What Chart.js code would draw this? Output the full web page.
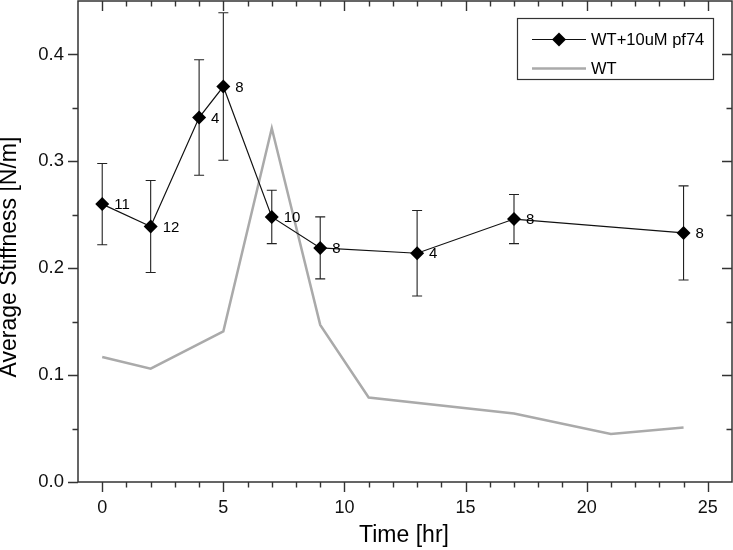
<!DOCTYPE html>
<html>
<head>
<meta charset="utf-8">
<script src="https://cdn.jsdelivr.net/npm/chart.js@4.4.1/dist/chart.umd.min.js"></script>
<style>
  html, body { margin: 0; padding: 0; background: #fff; }
  #wrap { width: 733px; height: 550px; }
</style>
</head>
<body>
<div id="wrap"><canvas id="c" width="733" height="550"></canvas></div>
<script>
// ---- data ----
const timesPf74 = [0, 2, 4, 5, 7, 9, 13, 17, 24];
const stiffPf74 = [0.260, 0.239, 0.341, 0.370, 0.248, 0.219, 0.214, 0.246, 0.233];
const errPf74   = [0.038, 0.043, 0.054, 0.069, 0.025, 0.029, 0.040, 0.023, 0.044];
const nLabels   = ['11', '12', '4', '8', '10', '8', '4', '8', '8'];
const timesWT   = [0, 2, 5, 7, 9, 11, 17, 21, 24];
const stiffWT   = [0.117, 0.106, 0.141, 0.331, 0.147, 0.079, 0.064, 0.045, 0.051];
const seriesNames = ['WT+10uM pf74', 'WT'];
const xTitle = 'Time [hr]';
const yTitle = 'Average Stiffness [N/m]';

const FONT = '"Liberation Sans", Arial, sans-serif';
const FRAME = '#333333';
const GRAY = '#aaaaaa';

const pf74Points = timesPf74.map((t, i) => ({ x: t, y: stiffPf74[i] }));
const wtPoints = timesWT.map((t, i) => ({ x: t, y: stiffWT[i] }));

function isMultiple(v, step) {
  const r = v / step;
  return Math.abs(r - Math.round(r)) < 1e-6;
}

function noPad(s) {
  s.paddingTop = 0; s.paddingBottom = 0; s.paddingLeft = 0; s.paddingRight = 0;
}

const errorBarPlugin = {
  id: 'errorBars',
  beforeDatasetsDraw(chart) {
    const ctx = chart.ctx, xs = chart.scales.x, ys = chart.scales.y;
    ctx.save();
    ctx.strokeStyle = '#222';
    ctx.lineWidth = 1.1;
    timesPf74.forEach((t, i) => {
      const px = xs.getPixelForValue(t);
      const top = ys.getPixelForValue(stiffPf74[i] + errPf74[i]);
      const bot = ys.getPixelForValue(stiffPf74[i] - errPf74[i]);
      ctx.beginPath();
      ctx.moveTo(px, top); ctx.lineTo(px, bot);
      ctx.moveTo(px - 5, top); ctx.lineTo(px + 5, top);
      ctx.moveTo(px - 5, bot); ctx.lineTo(px + 5, bot);
      ctx.stroke();
    });
    ctx.restore();
  }
};

const decorPlugin = {
  id: 'decor',
  afterDraw(chart) {
    const ctx = chart.ctx, xs = chart.scales.x, ys = chart.scales.y;
    const a = chart.chartArea;
    ctx.save();
    // data labels
    ctx.fillStyle = '#000';
    ctx.font = '15px ' + FONT;
    ctx.textAlign = 'left';
    ctx.textBaseline = 'middle';
    timesPf74.forEach((t, i) => {
      ctx.fillText(nLabels[i], xs.getPixelForValue(t) + 12, ys.getPixelForValue(stiffPf74[i]) + 1);
    });
    // frame
    ctx.strokeStyle = FRAME;
    ctx.lineWidth = 1.5;
    ctx.strokeRect(a.left, a.top, a.right - a.left, a.bottom - a.top);
    // ticks
    ctx.lineWidth = 1.4;
    ctx.beginPath();
    xs.ticks.forEach(tk => {
      const v = tk.value;
      if (v <= xs.min || v >= xs.max) return;
      const px = Math.round(xs.getPixelForValue(v)) + 0.5;
      const len = isMultiple(v, 5) ? 10 : 5.5;
      ctx.moveTo(px, a.bottom); ctx.lineTo(px, a.bottom + len);
      ctx.moveTo(px, a.top); ctx.lineTo(px, a.top + len);
    });
    ys.ticks.forEach(tk => {
      const v = tk.value;
      if (v >= ys.max - 1e-9) return;
      const py = Math.round(ys.getPixelForValue(v)) + 0.5;
      const len = isMultiple(v, 0.1) ? 10 : 5.5;
      ctx.moveTo(a.left - len, py); ctx.lineTo(a.left, py);
      if (v > ys.min + 1e-9) { ctx.moveTo(a.right - len, py); ctx.lineTo(a.right, py); }
    });
    ctx.stroke();
    // axis titles
    ctx.fillStyle = '#000';
    ctx.font = '23px ' + FONT;
    ctx.textAlign = 'center';
    ctx.textBaseline = 'middle';
    ctx.fillText(xTitle, (a.left + a.right) / 2 - 1, 536);
    ctx.save();
    ctx.translate(10, 257);
    ctx.rotate(-Math.PI / 2);
    ctx.fillText(yTitle, 0, 0);
    ctx.restore();
    // legend
    ctx.strokeStyle = FRAME;
    ctx.lineWidth = 1.2;
    ctx.strokeRect(517.5, 18.5, 196, 61);
    ctx.strokeStyle = '#111';
    ctx.lineWidth = 1.2;
    ctx.beginPath(); ctx.moveTo(532, 39.5); ctx.lineTo(586, 39.5); ctx.stroke();
    ctx.fillStyle = '#000';
    ctx.beginPath();
    ctx.moveTo(559, 32.5); ctx.lineTo(566, 39.5); ctx.lineTo(559, 46.5); ctx.lineTo(552, 39.5);
    ctx.closePath(); ctx.fill();
    ctx.strokeStyle = GRAY;
    ctx.lineWidth = 2.5;
    ctx.beginPath(); ctx.moveTo(532, 68.5); ctx.lineTo(586, 68.5); ctx.stroke();
    ctx.fillStyle = '#000';
    ctx.font = '16.5px ' + FONT;
    ctx.textAlign = 'left';
    ctx.textBaseline = 'middle';
    ctx.fillText(seriesNames[0], 591, 40);
    ctx.fillText(seriesNames[1], 591, 69);
    ctx.restore();
  }
};

new Chart(document.getElementById('c'), {
  type: 'line',
  data: {
    datasets: [
      {
        label: seriesNames[0],
        data: pf74Points,
        borderColor: '#111',
        borderWidth: 1.2,
        pointStyle: 'rectRot',
        pointRadius: 7,
        pointBackgroundColor: '#000',
        pointBorderColor: '#000',
        pointBorderWidth: 0,
        tension: 0,
        fill: false
      },
      {
        label: seriesNames[1],
        data: wtPoints,
        borderColor: GRAY,
        borderWidth: 2.5,
        pointRadius: 0,
        tension: 0,
        fill: false
      }
    ]
  },
  options: {
    responsive: false,
    animation: false,
    devicePixelRatio: 1,
    layout: { autoPadding: false, padding: { top: 1, right: 1, left: 0, bottom: 0 } },
    plugins: { legend: { display: false }, tooltip: { enabled: false } },
    scales: {
      x: {
        type: 'linear',
        min: -1, max: 26,
        afterFit(s) { s.height = 68; noPad(s); },
        border: { display: false },
        grid: { drawOnChartArea: false, drawTicks: true, tickLength: 10, color: 'rgba(0,0,0,0)' },
        ticks: {
          stepSize: 1, autoSkip: false, maxRotation: 0, padding: 5,
          color: '#111', font: { family: FONT, size: 18 },
          callback: v => isMultiple(v, 5) ? String(Math.round(v)) : ''
        },
        title: { display: false }
      },
      y: {
        type: 'linear',
        min: 0, max: 0.45,
        afterFit(s) { s.width = 78; noPad(s); },
        border: { display: false },
        grid: { drawOnChartArea: false, drawTicks: true, tickLength: 11, color: 'rgba(0,0,0,0)' },
        ticks: {
          stepSize: 0.05, autoSkip: false, padding: 3,
          color: '#111', font: { family: FONT, size: 18.5 },
          callback: v => isMultiple(v, 0.1) ? v.toFixed(1) : ''
        },
        title: { display: false }
      }
    }
  },
  plugins: [errorBarPlugin, decorPlugin]
});
</script>
</body>
</html>
